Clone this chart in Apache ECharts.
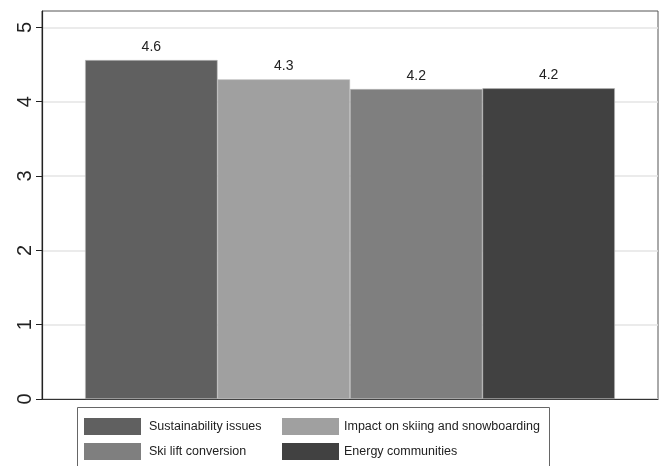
<!DOCTYPE html>
<html>
<head>
<meta charset="utf-8">
<script src="https://cdn.jsdelivr.net/npm/echarts@6/dist/echarts.min.js"></script>
<style>
  html, body { margin: 0; padding: 0; background: #fff; }
  #chart { width: 660px; height: 466px; }
</style>
</head>
<body>
<div id="chart"></div>
<script>
// Mean rating per topic
const topics = ['Sustainability issues', 'Impact on skiing and snowboarding', 'Ski lift conversion', 'Energy communities'];
const meanScores = [4.56, 4.30, 4.17, 4.18];
const barColors = ['#606060', '#a0a0a0', '#7f7f7f', '#414141'];
const yTicks = [0, 1, 2, 3, 4, 5];

const chart = echarts.init(document.getElementById('chart'));

const series = topics.map((name, i) => ({
  name: name,
  type: 'bar',
  data: [meanScores[i]],
  barGap: '0%',
  barCategoryGap: '14%',
  itemStyle: { color: barColors[i], borderColor: '#b8b8b8', borderWidth: 0.6 },
  label: {
    show: true,
    position: 'top',
    distance: 6,
    fontFamily: 'Liberation Sans, Arial, sans-serif',
    fontSize: 14,
    color: '#222',
    formatter: p => p.value.toFixed(1)
  }
}));

// Legend: two columns, two rows (one legend component per entry)
const legendSlots = [
  { left: 84, top: 418, gap: 3 },
  { left: 282, top: 418, gap: 0 },
  { left: 84, top: 443, gap: 3 },
  { left: 282, top: 443, gap: 0 }
];
const legends = topics.map((name, i) => ({
  data: [name],
  left: legendSlots[i].left,
  top: legendSlots[i].top,
  padding: 0,
  itemWidth: 57,
  itemHeight: 17,
  icon: 'rect',
  selectedMode: false,
  itemStyle: { borderWidth: 0 },
  textStyle: {
    fontFamily: 'Liberation Sans, Arial, sans-serif',
    fontSize: 12.5,
    color: '#222',
    padding: [0, 0, 0, legendSlots[i].gap]
  }
}));

chart.setOption({
  animation: false,
  backgroundColor: '#fff',
  grid: {
    left: 42, right: 2, top: 11, bottom: 67,
    show: true,
    borderColor: '#555',
    borderWidth: 1
  },
  xAxis: {
    type: 'category',
    data: [''],
    axisLine: { show: true, lineStyle: { color: '#333', width: 1.2 } },
    axisTick: { show: false },
    axisLabel: { show: false }
  },
  yAxis: {
    type: 'value',
    min: 0,
    max: 5.22,
    interval: 1,
    axisLine: { show: true, lineStyle: { color: '#222', width: 1.2 } },
    axisTick: {
      show: true, length: 6, inside: false,
      customValues: yTicks,
      lineStyle: { color: '#222', width: 1 }
    },
    axisLabel: {
      customValues: yTicks,
      rotate: 90,
      margin: 7,
      fontFamily: 'Liberation Sans, Arial, sans-serif',
      fontSize: 20,
      color: '#222'
    },
    splitLine: { show: true, lineStyle: { color: '#e4e4e4', width: 1.5 } }
  },
  legend: legends,
  graphic: [
    {
      type: 'rect',
      shape: { x: 77.5, y: 407.5, width: 472, height: 60 },
      style: { fill: 'none', stroke: '#666', lineWidth: 1 },
      silent: true
    }
  ],
  series: series
});
</script>
</body>
</html>
